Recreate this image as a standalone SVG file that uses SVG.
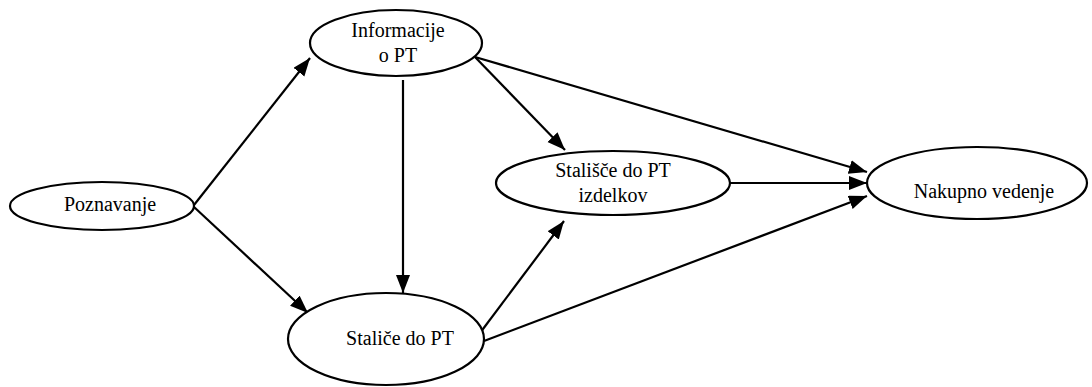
<svg xmlns="http://www.w3.org/2000/svg" width="1092" height="387" viewBox="0 0 1092 387">
<style>
.n ellipse{fill:#fff;stroke:#000;stroke-width:2.2}
.n text{font-family:"Liberation Serif","Times New Roman",serif;font-size:20px;fill:#000;text-anchor:middle}
.e line{stroke:#000;stroke-width:2.2;marker-end:url(#ah)}
</style>
<defs>
<marker id="ah" markerUnits="userSpaceOnUse" markerWidth="20" markerHeight="16" refX="18" refY="7" orient="auto">
<path d="M0,0 L18,7 L0,14 Z" fill="#000"/>
</marker>
</defs>
<rect width="1092" height="387" fill="#fff"/>
<g class="e" id="connectors">
<line x1="194" y1="205" x2="310" y2="58"/>
<line x1="194" y1="207" x2="308" y2="313"/>
<line x1="403" y1="80" x2="403" y2="293"/>
<line x1="475" y1="57" x2="565" y2="150"/>
<line x1="475" y1="57" x2="867" y2="172"/>
<line x1="730" y1="183" x2="867" y2="183"/>
<line x1="480" y1="333" x2="564" y2="221"/>
<line x1="484" y1="341" x2="867" y2="196"/>
</g>
<g class="n" id="poznavanje"><ellipse cx="102" cy="206" rx="92" ry="24"/><text x="110" y="211">Poznavanje</text></g>
<g class="n" id="informacije"><ellipse cx="396" cy="43" rx="86" ry="33"/><text x="398" y="37">Informacije</text><text x="398" y="62">o PT</text></g>
<g class="n" id="stalice"><ellipse cx="386" cy="339" rx="98" ry="46"/><text x="400" y="345">Staliče do PT</text></g>
<g class="n" id="stalisce"><ellipse cx="613" cy="183" rx="117" ry="32"/><text x="613" y="177">Stališče do PT</text><text x="613" y="202">izdelkov</text></g>
<g class="n" id="nakupno"><ellipse cx="977" cy="183" rx="110" ry="36"/><text x="984" y="198">Nakupno vedenje</text></g>
</svg>
